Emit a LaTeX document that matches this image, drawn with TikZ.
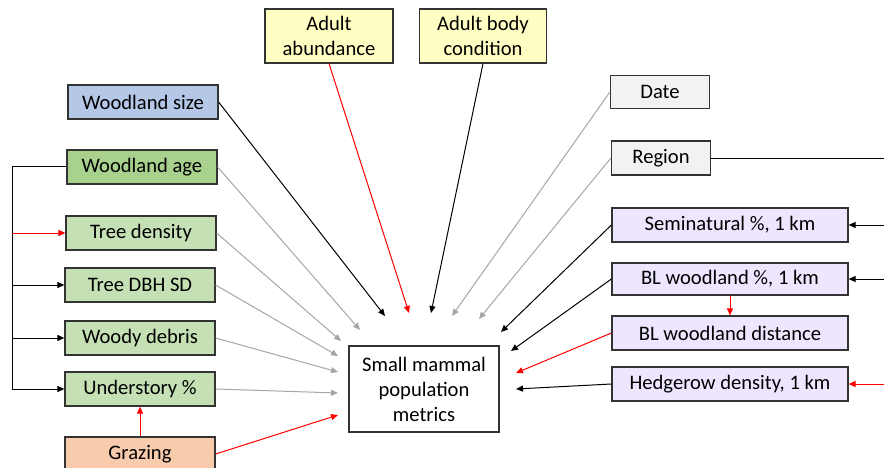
\documentclass[tikz,border=0pt]{standalone}
\usepackage{fontspec}
\setmainfont{Carlito}
\usetikzlibrary{arrows.meta}

\definecolor{sizeblue}{HTML}{B4C7E7}
\definecolor{agegreen}{HTML}{A9D18E}
\definecolor{treegreen}{HTML}{C5E0B4}
\definecolor{grazeorange}{HTML}{F8CBAD}
\definecolor{adultyellow}{HTML}{FFFFC4}
\definecolor{sitegray}{HTML}{F2F2F2}
\definecolor{landlilac}{HTML}{EEE6FF}
\definecolor{linkgray}{HTML}{A6A6A6}

\tikzset{
	var/.style={draw=black!80, line width=1.2pt, inner sep=0pt, align=center,
		font=\fontsize{20.6}{25}\selectfont},
	lbox/.style={var, minimum width=150pt, minimum height=34pt},
	rbox/.style={var, minimum width=236pt, minimum height=34pt},
	link/.style={line width=1pt, -{Triangle[length=7pt,width=6pt]}},
}

\begin{document}
\begin{tikzpicture}[x=1pt,y=-1pt]

\useasboundingbox (0,0) rectangle (884,468);

% response
\node[var, minimum width=150pt, minimum height=86pt] (metrics) at (424,389) {Small mammal\\population\\metrics};

% woodland variables
\node[lbox, fill=sizeblue] (wsize) at (143,102) {Woodland size};
\node[lbox, fill=agegreen] (wage) at (142,167) {Woodland age};
\node[lbox, fill=treegreen] (tdens) at (141,233) {Tree density};
\node[lbox, fill=treegreen] (tdbh) at (140,285) {Tree DBH SD};
\node[lbox, fill=treegreen] (debris) at (140,338) {Woody debris};
\node[lbox, fill=treegreen] (under) at (140,389) {Understory \%};
\node[lbox, fill=grazeorange] (graze) at (140,454) {Grazing};

% adults
\node[var, fill=adultyellow, minimum width=128pt, minimum height=54pt] (abund) at (329,36) {Adult\\abundance};
\node[var, fill=adultyellow, minimum width=127pt, minimum height=54pt] (cond) at (483,36) {Adult body\\condition};

% site and landscape
\node[var, fill=sitegray, minimum width=99pt, minimum height=33pt] (date) at (660,92) {Date};
\node[var, fill=sitegray, minimum width=99pt, minimum height=34pt] (region) at (661,158) {Region};
\node[rbox, fill=landlilac] (semi) at (730,225) {Seminatural \%, 1 km};
\node[rbox, fill=landlilac, minimum height=32pt] (blpct) at (730,279) {BL woodland \%, 1 km};
\node[rbox, fill=landlilac] (bldist) at (730,333) {BL woodland distance};
\node[rbox, fill=landlilac] (hedge) at (730,384) {Hedgerow density, 1 km};

% arrow ends round the response
\coordinate (t1) at (385,316);
\coordinate (t2) at (409,313);
\coordinate (t3) at (431,313);
\coordinate (t4) at (452,316);
\coordinate (t5) at (479,319);
\coordinate (t6) at (501,332);
\coordinate (t7) at (511,351);
\coordinate (t8) at (516,373);
\coordinate (t9) at (516,389);
\coordinate (t10) at (360,330);
\coordinate (t11) at (341,341);
\coordinate (t12) at (338,356);
\coordinate (t13) at (338,372);
\coordinate (t14) at (338,393);
\coordinate (t15) at (338,415);

\coordinate (trunk) at (12,0);
\coordinate (edge) at (884,0);

\draw[link] (wsize.east) -- (t1);
\draw[link, red] (abund.south) -- (t2);
\draw[link] (cond.south) -- (t3);
\draw[link, linkgray] (date.west) -- (t4);
\draw[link, linkgray] (region.west) -- (t5);
\draw[link] (semi.west) -- (t6);
\draw[link] (blpct.west) -- (t7);
\draw[link, red] (bldist.west) -- (t8);
\draw[link] (hedge.west) -- (t9);

\draw[link, linkgray] (wage.east) -- (t10);
\draw[link, linkgray] (tdens.east) -- (t11);
\draw[link, linkgray] (tdbh.east) -- (t12);
\draw[link, linkgray] (debris.east) -- (t13);
\draw[link, linkgray] (under.east) -- (t14);
\draw[link, red] (graze.east) -- (t15);

% woodland age bracket
\draw[link] (wage.west) -| (trunk |- under.west) -- (under.west);
\draw[link, red] (trunk |- tdens.west) -- (tdens.west);
\draw[link] (trunk |- tdbh.west) -- (tdbh.west);
\draw[link] (trunk |- debris.west) -- (debris.west);
\draw[link, red] (graze.north) -- (under.south);

% landscape links
\draw[line width=0.9pt] (region.east) -- (region.east -| edge);
\draw[link] (semi.east -| edge) -- (semi.east);
\draw[link] (blpct.east -| edge) -- (blpct.east);
\draw[link, red] (hedge.east -| edge) -- (hedge.east);
\draw[link, red] (blpct.south) -- (bldist.north);

\end{tikzpicture}
\end{document}
